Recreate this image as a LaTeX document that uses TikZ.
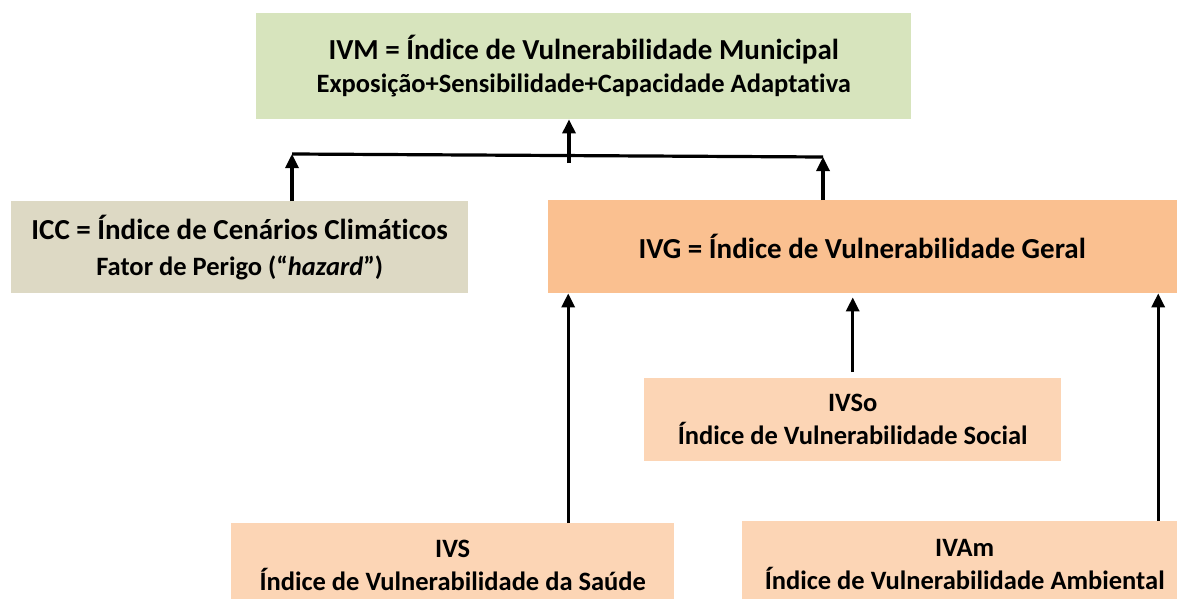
\documentclass[tikz,border=0pt]{standalone}
\usepackage{fontspec}
\setmainfont{Carlito}[Ligatures=NoCommon]
\usetikzlibrary{arrows.meta}

\definecolor{ivmgreen}{HTML}{D7E4BD}
\definecolor{iccgray}{HTML}{DDD9C4}
\definecolor{ivgorange}{HTML}{FAC090}
\definecolor{subpeach}{HTML}{FCD5B5}

\newcommand{\bigtxt}{\fontsize{29}{31}\selectfont}

\begin{document}
\begin{tikzpicture}[x=1pt, y=-1pt,
  box/.style={inner sep=0pt, anchor=north west, align=center,
    font=\bfseries\fontsize{26.5}{33}\selectfont},
  subbox/.style={box, fill=subpeach, font=\bfseries\fontsize{26.5}{33}\selectfont},
  arr/.style={-{Triangle[width=13pt,length=14pt]}, line width=3.2pt}]

  \useasboundingbox (0,0) rectangle (1177,599);

  % --- Top box ---
  \node[box, fill=ivmgreen, minimum width=655pt, minimum height=106pt] (ivm) at (256,13)
    {{\bigtxt IVM = Índice de Vulnerabilidade Municipal}\\
     Exposição+Sensibilidade+Capacidade Adaptativa};

  % --- Middle row ---
  \node[box, fill=iccgray, minimum width=457pt, minimum height=92pt,
        font=\bfseries\fontsize{26.5}{36}\selectfont] (icc) at (11,201)
    {{\bigtxt ICC = Índice de Cenários Climáticos}\\
     Fator de Perigo (“\textit{hazard}”)};
  \node[box, fill=ivgorange, minimum width=640pt, minimum height=93pt] (ivg) at (548,200)
    {\hspace*{-12pt}\bigtxt IVG = Índice de Vulnerabilidade Geral};

  % --- Sub-indices ---
  \node[subbox, minimum width=417pt, minimum height=83pt] (ivso) at (644,378)
    {IVSo\\ Índice de Vulnerabilidade Social};
  \node[subbox, minimum width=443pt, minimum height=84pt] (ivs) at (231,523)
    {IVS\\ Índice de Vulnerabilidade da Saúde};
  \node[subbox, minimum width=445pt, minimum height=86pt] (ivam) at (742,521)
    {IVAm\\ Índice de Vulnerabilidade Ambiental};

  % --- Join line ---
  \coordinate (jl) at (292,154);
  \coordinate (jr) at (823,157);
  \coordinate (jm) at (569,163);
  \draw[line width=3.2pt] (jl) -- (jr);
  \draw[arr] (jm) -- (ivm.south -| jm);
  \draw[arr] (icc.north -| jl) -- (jl);
  \draw[arr] (ivg.north -| jr) -- (jr);

  % --- Arrows into IVG ---
  \draw[arr] ([xshift=115.5pt]ivs.north) -- ([xshift=115.5pt]ivs.north |- ivg.south);
  \draw[arr] ([yshift=6pt]ivso.north) -- ([yshift=-4pt]ivso.north |- ivg.south);
  \draw[arr] ([xshift=193.5pt]ivam.north) -- ([xshift=193.5pt]ivam.north |- ivg.south);

\end{tikzpicture}
\end{document}
